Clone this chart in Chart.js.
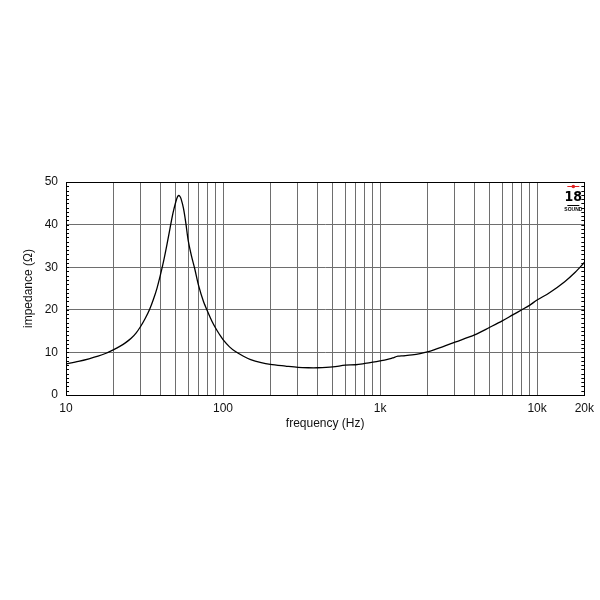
<!DOCTYPE html>
<html>
<head>
<meta charset="utf-8">
<script src="https://cdn.jsdelivr.net/npm/chart.js@4"></script>
<style>
  html, body { margin: 0; padding: 0; background: #fff; }
  #wrap { width: 600px; height: 600px; }
</style>
</head>
<body>
<div id="wrap"><canvas id="c" width="600" height="600"></canvas></div>
<script>
// impedance curve
const freqHz = [10, 12, 14, 16, 18, 20, 22, 24, 26, 28, 30, 32, 34, 36, 38, 40, 42, 44, 46, 48,
  50, 51, 52, 53, 54, 56, 58, 60, 63, 66, 70, 75, 80, 85, 90, 95, 100, 110, 120, 135, 150, 175,
  200, 250, 300, 350, 400, 500, 600, 700, 800, 900, 1000, 1100, 1200, 1300, 1400, 1600, 1800,
  2000, 2500, 3000, 4000, 5000, 6000, 7000, 8000, 9000, 10000, 12000, 15000, 17500, 20000];
const impedanceOhm = [7.3, 7.9, 8.5, 9.1, 9.8, 10.6, 11.4, 12.3, 13.3, 14.6, 16.2, 18.0, 20.0, 22.4, 25.1, 28.3, 31.7, 35.4, 39.2, 42.7,
  45.3, 46.3, 46.8, 46.7, 46.1, 43.8, 40.3, 36.3, 32.6, 29.7, 25.6, 22.0, 19.5, 17.3, 15.6, 14.2, 13.0, 11.3, 10.2, 9.1, 8.3, 7.6,
  7.2, 6.8, 6.5, 6.4, 6.4, 6.6, 7.0, 7.1, 7.4, 7.7, 8.0, 8.3, 8.7, 9.1, 9.2, 9.4, 9.7,
  10.1, 11.3, 12.4, 14.1, 15.9, 17.4, 18.8, 20.0, 21.1, 22.3, 24.0, 26.6, 28.8, 31.1];

// axes
const xTickValues = [10, 20, 30, 40, 50, 60, 70, 80, 90, 100, 200, 300, 400, 500, 600, 700, 800, 900,
  1000, 2000, 3000, 4000, 5000, 6000, 7000, 8000, 9000, 10000, 20000];
const xTickLabels = { 10: '10', 100: '100', 1000: '1k', 10000: '10k', 20000: '20k' };
const yMin = 0, yMax = 50, yStep = 10, yMinorStep = 1;

const FONT = 'Liberation Sans, Arial, sans-serif';
const TEXT = '#111';
const GRID = '#6e6e6e';

// frame round the plot plus small inward ticks on both sides
const framePlugin = {
  id: 'frame',
  afterDraw(chart) {
    const { ctx, chartArea: a, scales } = chart;
    ctx.save();
    ctx.strokeStyle = '#000';
    ctx.lineWidth = 1;
    ctx.strokeRect(Math.round(a.left) + 0.5, Math.round(a.top) + 0.5,
      Math.round(a.right - a.left), Math.round(a.bottom - a.top));
    ctx.beginPath();
    for (let v = yMin; v <= yMax; v += yMinorStep) {
      const y = Math.round(scales.y.getPixelForValue(v)) + 0.5;
      ctx.moveTo(a.left, y); ctx.lineTo(a.left + 3, y);
      ctx.moveTo(a.right, y); ctx.lineTo(a.right - 3, y);
    }
    ctx.stroke();
    ctx.restore();
  }
};

// little "18 SOUND" mark in the top right corner
const logoPlugin = {
  id: 'logo',
  afterDraw(chart) {
    const { ctx, chartArea: a } = chart;
    const cx = a.right - 11, top = a.top + 4;
    ctx.save();
    ctx.strokeStyle = '#e02020';
    ctx.fillStyle = '#e02020';
    ctx.lineWidth = 1;
    ctx.beginPath();
    ctx.moveTo(cx - 6, top + 0.5); ctx.lineTo(cx + 6, top + 0.5);
    ctx.stroke();
    ctx.beginPath(); ctx.arc(cx, top + 0.5, 1.8, 0, Math.PI * 2); ctx.fill();
    ctx.fillStyle = '#000';
    ctx.textAlign = 'center';
    ctx.textBaseline = 'top';
    ctx.font = 'bold 14px "Liberation Sans Narrow", "DejaVu Sans Condensed", sans-serif';
    ctx.fillText('18', cx, top + 4);
    ctx.fillRect(cx - 6, top + 19, 12, 1);
    ctx.font = 'bold 5px ' + FONT;
    ctx.fillText('SOUND', cx, top + 21);
    ctx.restore();
  }
};

new Chart(document.getElementById('c').getContext('2d'), {
  type: 'line',
  data: {
    datasets: [{
      data: freqHz.map((f, i) => ({ x: f, y: impedanceOhm[i] })),
      borderColor: '#000', borderWidth: 1.3, pointRadius: 0,
      fill: false, tension: 0.3
    }]
  },
  options: {
    responsive: false, animation: false,
    layout: { padding: { top: 182, right: 14, bottom: 165, left: 0 } },
    plugins: { legend: { display: false }, tooltip: { enabled: false } },
    scales: {
      x: {
        type: 'logarithmic', min: 10, max: 20000,
        afterBuildTicks: s => { s.ticks = xTickValues.map(v => ({ value: v })); },
        afterFit: s => { s.height = 40; },
        ticks: { autoSkip: false, maxRotation: 0, minRotation: 0, padding: 6, color: TEXT,
          font: { family: FONT, size: 12 }, callback: v => xTickLabels[v] || '' },
        grid: { color: GRID, lineWidth: 1, drawTicks: false },
        border: { display: true, color: '#000' },
        title: { display: true, text: 'frequency (Hz)', color: TEXT,
          font: { family: FONT, size: 12 }, padding: { top: 0, bottom: 4 } }
      },
      y: {
        min: yMin, max: yMax,
        afterFit: s => { s.width = 66; },
        ticks: { stepSize: yStep, padding: 8, color: TEXT, font: { family: FONT, size: 12 } },
        grid: { color: GRID, lineWidth: 1, drawTicks: false },
        border: { display: true, color: '#000' },
        title: { display: true, text: 'impedance (Ω)', color: TEXT,
          font: { family: FONT, size: 12 }, padding: { top: 21, bottom: 0 } }
      }
    }
  },
  plugins: [framePlugin, logoPlugin]
});
</script>
</body>
</html>
